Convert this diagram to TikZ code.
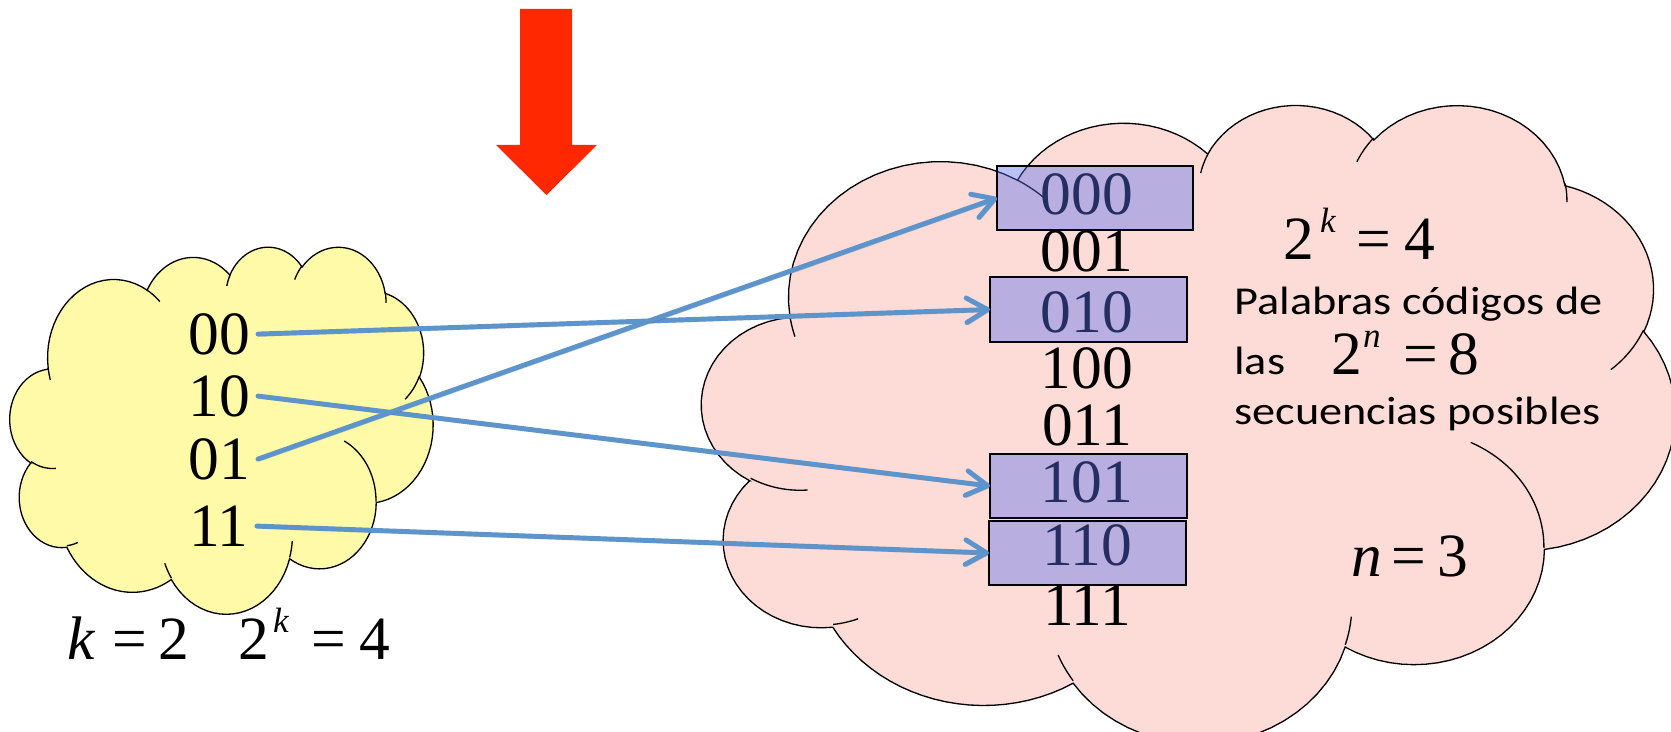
\documentclass[tikz,border=0pt]{standalone}
\usepackage{fontspec}
\setmainfont{Liberation Serif}
\newfontfamily\labelsans[FakeStretch=1.17]{Carlito}
\usetikzlibrary{arrows.meta}

\definecolor{cloudyellow}{RGB}{255,250,168}
\definecolor{cloudpink}{RGB}{253,220,216}
\definecolor{wordblue}{RGB}{90,112,236}
\definecolor{linkblue}{RGB}{92,148,203}
\definecolor{signalred}{RGB}{255,40,0}

% ---- cloud outline built from elliptical arcs, box units 0..1000 (y down)
\newcommand\cldbox[4]{\xdef\cldX{#1}\xdef\cldY{#2}\xdef\cldW{#3}\xdef\cldH{#4}}
\newcommand\cldmove[2]{%
  \xdef\cldu{#1}\xdef\cldv{#2}\gdef\cldpath{}%
  \pgfmathsetmacro\cldsx{\cldX+\cldW/1000*(#1)}%
  \pgfmathsetmacro\cldsy{\cldY+\cldH/1000*(#2)}}
\newcommand\cldarc[4]{% x radius, y radius, start angle, sweep
  \pgfmathsetmacro\cldta{atan2((#1)*sin(#3),(#2)*cos(#3))}%
  \pgfmathsetmacro\cldtb{atan2((#1)*sin((#3)+(#4)),(#2)*cos((#3)+(#4)))}%
  \pgfmathsetmacro\cldtb{(\cldta)+mod((\cldtb)-(\cldta)+720,360)}%
  \pgfmathsetmacro\cldcx{(\cldu)-(#1)*cos(\cldta)}%
  \pgfmathsetmacro\cldcy{(\cldv)-(#2)*sin(\cldta)}%
  \pgfmathsetmacro\cldnu{(\cldcx)+(#1)*cos(\cldtb)}%
  \pgfmathsetmacro\cldnv{(\cldcy)+(#2)*sin(\cldtb)}%
  \xdef\cldu{\cldnu}\xdef\cldv{\cldnv}%
  \xdef\cldpath{\unexpanded\expandafter{\cldpath} -- plot[domain=\cldta:\cldtb,samples=24]
    ({\cldX+\cldW/1000*((\cldcx)+(#1)*cos(\noexpand\x))},{\cldY+\cldH/1000*((\cldcy)+(#2)*sin(\noexpand\x))})}}
\newcommand\cldstub[6]{%
  \cldmove{#1}{#2}\cldarc{#3}{#4}{#5}{#6}%
  \draw[cloudline] (\cldsx,\cldsy) \cldpath;}
\newcommand\drawcloud[5]{% left, top, width, height, fill colour
  \cldbox{#1}{#2}{#3}{#4}%
  \cldmove{90.28}{332.64}%
  \cldarc{156.32}{212.73}{-190.4875}{123.7805}%
  \cldarc{123.45}{168.22}{-144.1024}{89.9452}%
  \cldarc{101.04}{137.62}{-145.8079}{99.7230}%
  \cldarc{112.43}{152.66}{-130.9861}{117.2417}%
  \cldarc{123.45}{168.36}{-78.7089}{109.0269}%
  \cldarc{156.83}{213.43}{-46.2673}{130.2690}%
  \cldarc{133.91}{182.11}{0.6250}{114.0333}%
  \cldarc{156.30}{213.31}{22.4516}{115.1726}%
  \cldarc{178.70}{244.05}{66.2426}{75.7110}%
  \cldarc{100.93}{136.99}{-274.9421}{146.7356}%
  \cldarc{100.58}{137.62}{-246.8285}{152.5189}%
  \filldraw[cloudline,fill=#5] (\cldsx,\cldsy) \cldpath -- cycle;
  \cldstub{108.63}{605.95}{100.58}{137.62}{86.7420}{26.4295}%
  \cldstub{160.37}{807.85}{100.93}{136.99}{73.6105}{11.4475}%
  \cldstub{381.44}{904.86}{156.30}{213.31}{137.6242}{14.0811}%
  \cldstub{667.29}{804.42}{156.30}{213.31}{6.4533}{15.9984}%
  \cldstub{790.02}{531.34}{133.91}{182.11}{-70.2924}{70.9174}%
  \cldstub{967.55}{355.42}{123.45}{168.36}{30.3180}{27.7515}%
  \cldstub{887.13}{125.60}{112.43}{152.66}{-13.7443}{14.8589}%
  \cldstub{673.10}{91.48}{112.43}{152.66}{-149.1815}{18.1954}%
  \cldstub{512.52}{109.26}{101.04}{137.62}{-163.4943}{17.6864}%
  \cldstub{324.07}{120.19}{156.32}{212.73}{-66.7070}{12.3194}%
  \cldstub{95.53}{365.49}{156.32}{212.73}{157.6544}{11.8582}%
}

\newcommand\supit[1]{\raisebox{15.5pt}{\fontsize{20}{20}\selectfont\itshape #1}}

\tikzset{
  cloudline/.style={draw=black, line width=0.75pt},
  bits/.style={font=\fontsize{35}{35}\selectfont, inner xsep=4.5pt, inner ysep=0pt,
    text height=23.8pt, text depth=0pt, anchor=base},
  eqn/.style={font=\fontsize{35}{35}\selectfont, inner sep=0pt, anchor=base west},
  note/.style={font=\labelsans\fontsize{22.5}{22.5}\selectfont, inner sep=0pt, anchor=base west},
  wordbox/.style={draw=black, line width=0.9pt, fill=wordblue, fill opacity=0.42,
    draw opacity=1, minimum width=3.94cm, minimum height=1.28cm, inner sep=0pt, outer sep=0pt},
  link/.style={draw=linkblue, line width=2.8pt, line cap=round,
    -{Straight Barb[length=12pt,width=14pt,round]},
    preaction={draw=black, draw opacity=0.15,
      transform canvas={xshift=0.8pt,yshift=-1.3pt}}},
}

\begin{document}
\begin{tikzpicture}[x=0.02cm,y=-0.02cm]
\useasboundingbox (0,0) rectangle (1671,732);
\fill[white] (0,0) rectangle (1671,732);
\clip (0,0) rectangle (1671,732);

% message space (k = 2) and code space (n = 3)
\drawcloud{10}{246}{423}{367}{cloudyellow}
\drawcloud{702}{103.4}{973}{638}{cloudpink}

% messages
\node[bits] (l00) at (219,355) {00};
\node[bits] (l10) at (219,417) {10};
\node[bits] (l01) at (219,480) {01};
\node[bits] (l11) at (219,547) {11};

% all 3-bit sequences
\node[bits] (r000) at (1087,215) {000};
\node[bits] (r001) at (1087,272) {001};
\node[bits] (r010) at (1087,333) {010};
\node[bits] (r100) at (1087,389) {100};
\node[bits] (r011) at (1087,446) {011};
\node[bits] (r101) at (1087,503) {101};
\node[bits] (r110) at (1087,566) {110};
\node[bits] (r111) at (1087,626) {111};

% formulas and notes
\node[eqn] (kdef) at (67.6,660) {\textit{k}\hspace{9.1pt}=\hspace{6.9pt}2\hspace{27.8pt}2\hspace{2.2pt}\supit{k}\hspace{12.8pt}=\hspace{7.6pt}4};
\node[eqn] (cwcount) at (1283.1,260) {2\hspace{3.3pt}\supit{k}\hspace{11.7pt}=\hspace{7.6pt}4};
\node[note] (pal) at (1234,315) {Palabras códigos de};
\node[note] (las) at (1234,375) {las};
\node[eqn] (seqcount) at (1331.1,375) {2\hspace{0.5pt}\supit{n}\hspace{12.9pt}=\hspace{6pt}8};
\node[note] (sec) at (1234,425) {secuencias posibles};
\node[eqn] (nval) at (1351.6,577) {\textit{n}\hspace{4.9pt}=\hspace{6.5pt}3};

% chosen code words
\node[wordbox, minimum width=3.92cm] (b000) at (1095,198) {};
\node[wordbox, minimum height=1.30cm] (b010) at (1088.5,309.5) {};
\node[wordbox] (b101) at (1088.5,486) {};
\node[wordbox] (b110) at (1087.5,553) {};

% encoding map
\draw[link] (l00.east) -- (b010.west);
\draw[link] (l10.east) -- (b101.west);
\draw[link] (l01.east) -- (b000.west);
\draw[link] (l11.east) -- (b110.west);

% block arrow
\fill[signalred] (520,9) -- (572,9) -- (572,145) -- (597,145) -- (546.5,195)
  -- (496,145) -- (520,145) -- cycle;
\end{tikzpicture}
\end{document}
